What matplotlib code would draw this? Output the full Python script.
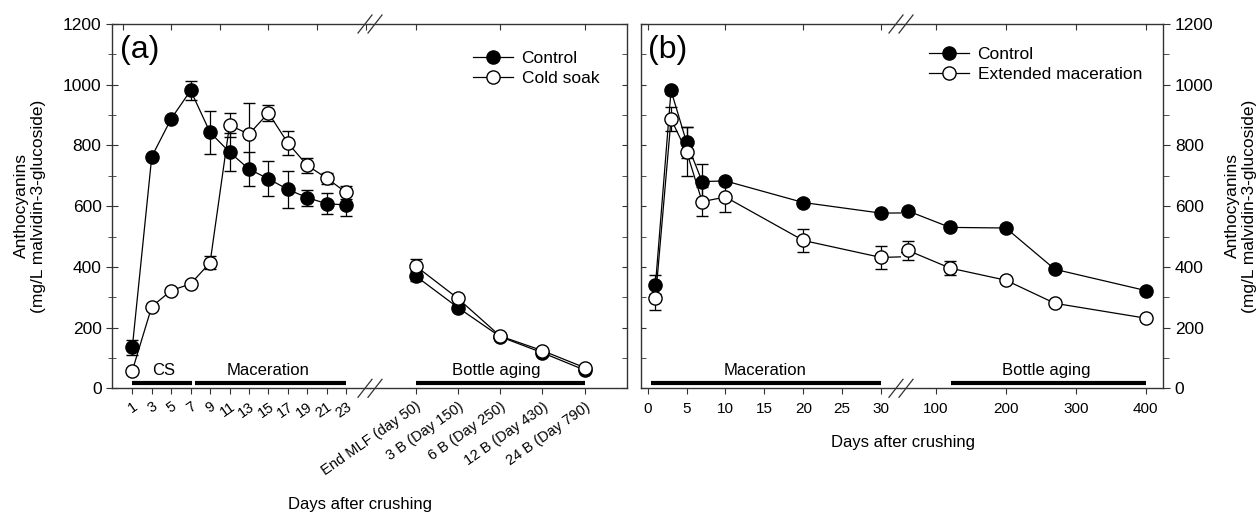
import numpy as np
import matplotlib
matplotlib.use("Agg")
import matplotlib.pyplot as plt
from matplotlib.lines import Line2D
from matplotlib.ticker import MultipleLocator

plt.rcParams['font.family'] = ['Liberation Sans', 'DejaVu Sans']

# panel (a): days of maceration
days_a = [1, 3, 5, 7, 9, 11, 13, 15, 17, 19, 21, 23]
ctrl_a = [135, 763, 888, 981, 843, 778, 722, 690, 655, 628, 608, 604]
ctrl_a_err = [25, 10, 10, 32, 72, 62, 55, 58, 60, 26, 35, 35]
cs_a = [58, 269, 322, 344, 414, 867, 837, 907, 808, 734, 692, 645]
cs_a_err = [8, 8, 8, 8, 22, 40, 104, 26, 38, 24, 18, 20]

# panel (a): bottle aging
bottle_labels = ['End MLF (day 50)', '3 B (Day 150)', '6 B (Day 250)',
                 '12 B (Day 430)', '24 B (Day 790)']
ctrl_bottle = [370, 266, 170, 117, 60]
ctrl_bottle_err = [15, 8, 5, 5, 5]
cs_bottle = [403, 296, 172, 124, 68]
cs_bottle_err = [24, 8, 5, 5, 5]

# panel (b)
days_b = [1, 3, 5, 7, 10, 20, 30, 60, 120, 200, 270, 400]
ctrl_b = [341, 981, 810, 681, 683, 612, 577, 584, 530, 528, 392, 322]
ctrl_b_err = [32, 10, 50, 57, 10, 10, 10, 10, 10, 10, 10, 10]
em_b = [297, 887, 780, 615, 630, 487, 431, 454, 396, 356, 280, 231]
em_b_err = [39, 38, 80, 47, 50, 38, 37, 31, 24, 10, 10, 10]

W, H = 1259, 513
fig = plt.figure(figsize=(W / 100, H / 100), dpi=100)


def px_axes(x0, x1, y0=24, y1=388.3):
    return fig.add_axes([x0 / W, 1 - y1 / H, (x1 - x0) / W, (y1 - y0) / H])


ax_a1 = px_axes(112, 370)
ax_a2 = px_axes(370, 627)
ax_b1 = px_axes(641, 901)
ax_b2 = px_axes(901, 1163)

spine_col = '#333333'
lw = 0.9
ms = 9.5


def series(ax, x, y, err, filled):
    ax.errorbar(x, y, yerr=err, fmt='-o', color='k', lw=lw, ms=ms,
                mfc='k' if filled else 'white', mec='k', mew=1.0,
                ecolor='k', elinewidth=lw, capsize=4, capthick=lw)


def legend(ax, labels, x, y):
    handles = [Line2D([], [], color='k', lw=lw, marker='o', ms=ms, mec='k', mfc=fc)
               for fc in ('k', 'white')]
    ax.legend(handles, labels, loc='upper left',
              bbox_to_anchor=(x / W, 1 - y / H), bbox_transform=fig.transFigure,
              frameon=False, fontsize=12.5, handlelength=2.3, handletextpad=0.5,
              labelspacing=0.28, borderpad=0, borderaxespad=0)


for ax in (ax_a1, ax_a2, ax_b1, ax_b2):
    ax.set_ylim(0, 1200)
    ax.yaxis.set_major_locator(MultipleLocator(200))
    ax.yaxis.set_minor_locator(MultipleLocator(100))
    for s in ax.spines.values():
        s.set_color(spine_col)
        s.set_linewidth(1.0)
    # x ticks outward at the bottom, inward at the top
    ax.tick_params(axis='x', which='major', bottom=True, top=False, direction='out',
                   length=4, color=spine_col, pad=4)
    sec = ax.secondary_xaxis('top')
    sec.tick_params(axis='x', direction='in', length=4, color=spine_col, labeltop=False)
    sec.spines['top'].set_visible(False)

# ---- panel (a) ----
ax_a1.set_xlim(-1.09, 25.45)
ax_a1.set_xticks(days_a)
ax_a1.set_xticklabels([str(d) for d in days_a], rotation=35, ha='right',
                      rotation_mode='anchor', fontsize=10.5)
ax_a1.spines['right'].set_visible(False)
ax_a1.tick_params(axis='y', which='major', direction='inout', length=8, labelsize=12.5,
                  color=spine_col)
ax_a1.tick_params(axis='y', which='minor', direction='inout', length=6, color=spine_col)
series(ax_a1, days_a, ctrl_a, ctrl_a_err, True)
series(ax_a1, days_a, cs_a, cs_a_err, False)

ax_a2.set_xlim(-1.08, 5.0)
cats = np.arange(len(bottle_labels))
ax_a2.set_xticks(cats)
ax_a2.set_xticklabels(bottle_labels, rotation=35, ha='right',
                      rotation_mode='anchor', fontsize=10.5)
ax_a2.spines['left'].set_visible(False)
ax_a2.tick_params(axis='y', which='both', left=False, labelleft=False, right=True,
                  direction='in', length=3.5, color=spine_col)
series(ax_a2, cats, ctrl_bottle, ctrl_bottle_err, True)
series(ax_a2, cats, cs_bottle, cs_bottle_err, False)
legend(ax_a2, ['Control', 'Cold soak'], 473, 51)

# ---- panel (b) ----
ax_b1.set_xlim(-0.86, 32.56)
ax_b1.set_xticks([0, 5, 10, 15, 20, 25, 30])
ax_b1.spines['right'].set_visible(False)
ax_b1.tick_params(axis='y', which='both', direction='in', length=3.5, labelleft=False,
                  color=spine_col)
series(ax_b1, days_b, ctrl_b, ctrl_b_err, True)
series(ax_b1, days_b, em_b, em_b_err, False)

ax_b2.set_xlim(49.9, 424.7)
ax_b2.set_xticks([100, 200, 300, 400])
ax_b2.spines['left'].set_visible(False)
ax_b2.tick_params(axis='y', which='both', left=False, right=True, labelleft=False,
                  labelright=True, direction='out', color=spine_col, labelsize=12.5)
ax_b2.tick_params(axis='y', which='major', length=5)
ax_b2.tick_params(axis='y', which='minor', length=4)
series(ax_b2, days_b, ctrl_b, ctrl_b_err, True)
series(ax_b2, days_b, em_b, em_b_err, False)
legend(ax_b2, ['Control', 'Extended maceration'], 929, 47)

for ax in (ax_b1, ax_b2):
    ax.tick_params(axis='x', labelsize=11, pad=6)

# phase bars and labels
bar_y, txt_y = 16, 60
bars = [(ax_a1, 1, 7.1, 'CS', 4.2), (ax_a1, 7.4, 23, 'Maceration', 15),
        (ax_a2, 0, 4, 'Bottle aging', 1.9),
        (ax_b1, 0.4, 30, 'Maceration', 15.1), (ax_b2, 122, 400, 'Bottle aging', 257)]
for ax, x0, x1, label, xt in bars:
    ax.plot([x0, x1], [bar_y, bar_y], color='k', lw=3, solid_capstyle='butt')
    ax.text(xt, txt_y, label, ha='center', va='center', fontsize=12)

ax_a1.text(0.03, 0.93, '(a)', transform=ax_a1.transAxes, fontsize=23, va='center')
ax_b1.text(0.025, 0.93, '(b)', transform=ax_b1.transAxes, fontsize=23, va='center')

# axis break marks
for xc in (370, 901):
    for yc in (24, 388.3):
        for dx in (-5, 5):
            x = xc + dx
            fig.add_artist(Line2D([(x - 7) / W, (x + 7) / W],
                                  [1 - (yc + 9) / H, 1 - (yc - 9) / H],
                                  color=spine_col, lw=0.9))

ylab = 'Anthocyanins\n(mg/L malvidin-3-glucoside)'
fig.text(30 / W, 1 - 206 / H, ylab, rotation=90, ha='center', va='center', fontsize=12.5)
fig.text(1241 / W, 1 - 206 / H, ylab, rotation=90, ha='center', va='center', fontsize=12.5)
fig.text(360 / W, 1 - 505 / H, 'Days after crushing', ha='center', va='center', fontsize=12)
fig.text(903 / W, 1 - 443 / H, 'Days after crushing', ha='center', va='center', fontsize=12)

fig.savefig('out.png', dpi=100)
